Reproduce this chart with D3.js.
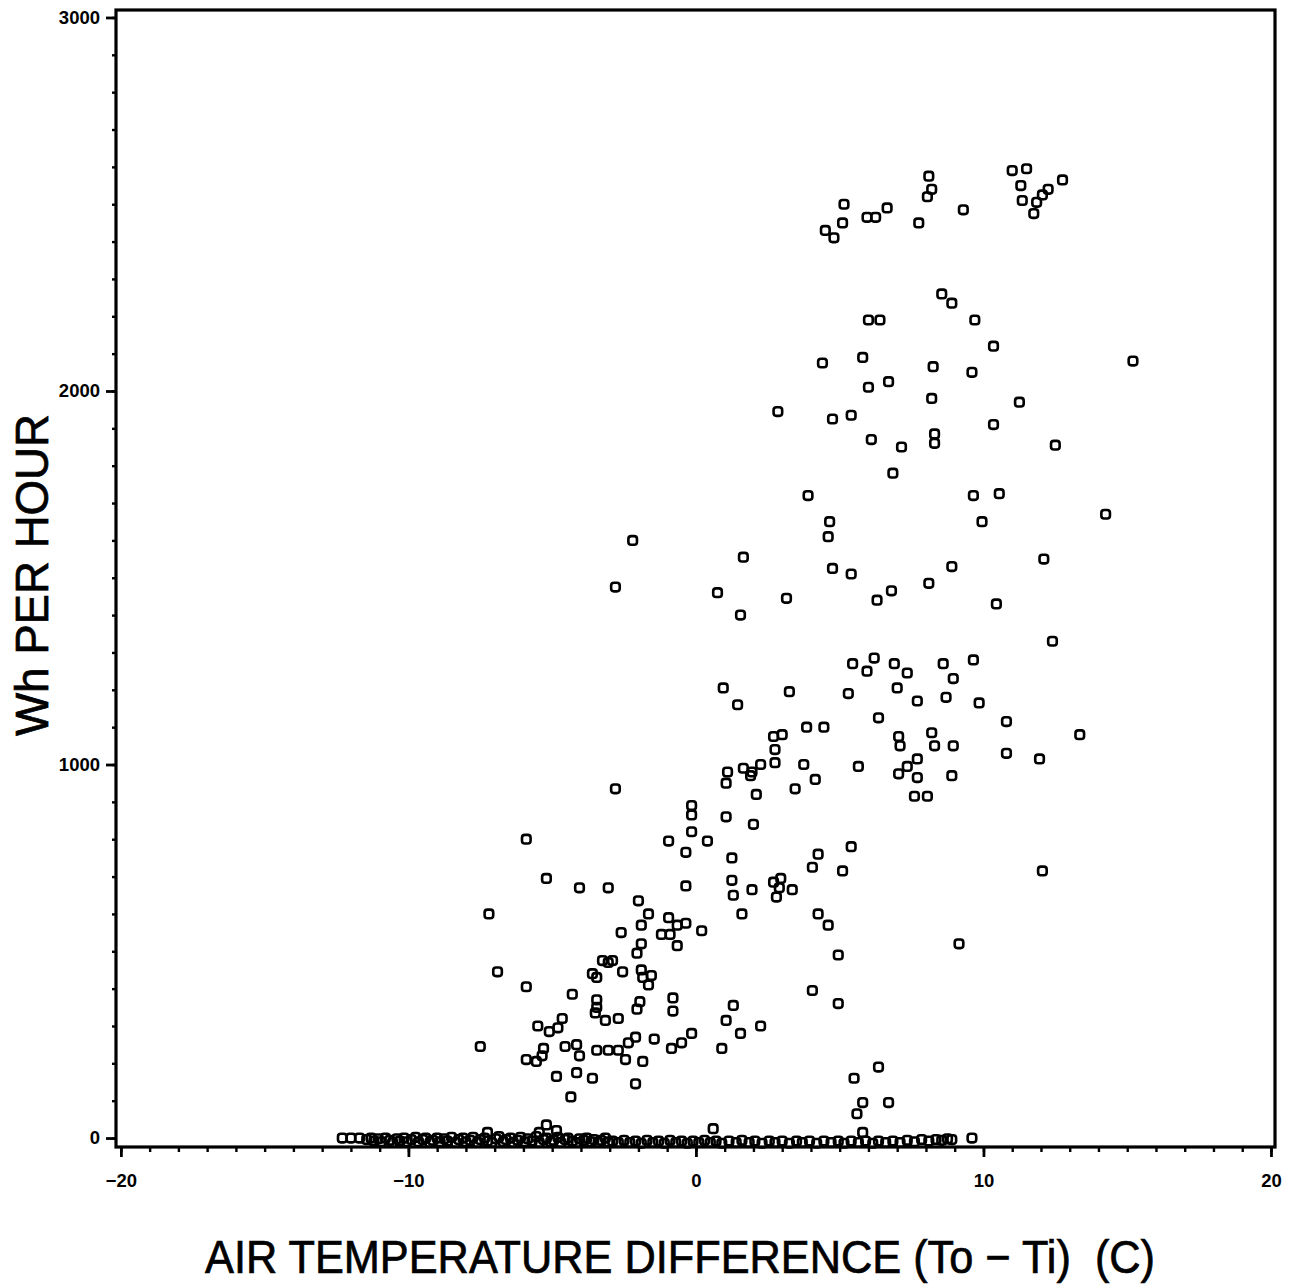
<!DOCTYPE html>
<html>
<head>
<meta charset="utf-8">
<script src="https://cdn.jsdelivr.net/npm/d3@7"></script>
<style>
  html, body { margin: 0; padding: 0; background: #fff; }
  svg { display: block; }
  .tick text { font-family: "Liberation Sans", Arial, sans-serif; font-weight: bold; font-size: 18.5px; fill: #000; }
  .title { font-family: "Liberation Sans", Arial, sans-serif; font-size: 46px; fill: #000; stroke: #000; stroke-width: 0.7px; white-space: pre; }
</style>
</head>
<body>
<svg id="chart" width="1291" height="1285"></svg>
<script>
// Hourly energy use (Wh) against outdoor-minus-indoor air temperature (C).
// Each entry: [temperature difference, Wh per hour]

const peakHours = [
  [4.5,2430],[4.8,2410],[5.15,2500],[5.1,2450],[5.95,2465],[6.25,2465],[6.65,2490],
  [8.1,2575],[8.2,2540],[8.05,2520],[7.75,2450],[9.3,2485],[11.0,2590],[11.5,2595],
  [11.3,2550],[11.35,2510],[11.85,2505],[11.75,2475],[12.05,2525],[12.25,2540],[12.75,2565]
];

const highHours = [
  [8.55,2260],[8.9,2235],[6.0,2190],[6.4,2190],[9.7,2190],[10.35,2120],[4.4,2075],[5.8,2090],
  [8.25,2065],[9.6,2050],[15.2,2080],[6.0,2010],[6.7,2025],[8.2,1980],[11.25,1970],[2.85,1945],
  [4.75,1925],[5.4,1935],[10.35,1910],[6.1,1870],[8.3,1885],[8.3,1860],[7.15,1850],[12.5,1855],
  [6.85,1780],[3.9,1720],[9.65,1720],[10.55,1725],[9.95,1650],[14.25,1670],[4.65,1650],[4.6,1610],
  [-2.2,1600],[1.65,1555],[12.1,1550],[4.75,1525],[5.4,1510],[8.9,1530],[8.1,1485],[6.8,1465],
  [6.3,1440],[10.45,1430],[-2.8,1475],[0.75,1460],[3.15,1445],[1.55,1400],[12.4,1330]
];

const midHours = [
  [5.45,1270],[6.2,1285],[5.95,1250],[6.9,1270],[7.35,1245],[8.6,1270],[9.65,1280],[8.95,1230],
  [5.3,1190],[7.0,1205],[7.7,1170],[8.7,1180],[9.85,1165],[6.35,1125],[10.8,1115],[0.95,1205],
  [1.45,1160],[3.25,1195],[3.85,1100],[4.45,1100],[2.7,1075],[3.0,1080],[2.75,1040],[7.05,1075],
  [7.1,1050],[8.2,1085],[8.3,1050],[8.95,1050],[13.35,1080],[11.95,1015],[10.8,1030],[2.25,1000],
  [2.75,1005],[3.75,1000],[1.1,980],[1.65,990],[1.95,980],[1.9,970],[1.05,950],[2.1,920],
  [3.45,935],[4.15,960],[5.65,995],[7.05,975],[7.35,995],[7.7,1015],[7.7,965],[8.9,970],
  [7.6,915],[8.05,915],[-2.8,935]
];

const lowHours = [
  [-0.15,890],[-0.15,865],[1.05,860],[2.0,840],[-0.15,820],[-0.95,795],[0.4,795],[-0.35,765],
  [1.25,750],[4.25,760],[5.4,780],[4.05,725],[5.1,715],[12.05,715],[-5.9,800],[-5.2,695],
  [-4.05,670],[-3.05,670],[-0.35,675],[1.25,690],[1.3,650],[1.95,665],[2.7,685],[2.95,695],
  [2.9,670],[3.35,665],[2.8,645],[1.6,600],[4.25,600],[4.6,570],[-2.0,635],[-1.65,600],
  [-2.6,550],[-1.9,570],[-0.95,590],[-0.65,570],[-0.35,575],[-1.2,545],[-0.9,545],[0.2,555],
  [-1.9,520],[-0.65,515],[9.15,520],[-7.2,600],[4.95,490],[-2.05,495],[-3.25,475],[-2.9,475],
  [-3.05,470],[-2.55,445],[-3.6,440],[-3.45,430],[-1.9,450],[-1.55,435],[-1.85,430],[-1.65,410],
  [-6.9,445],[-5.9,405]
];

const lightHours = [
  [4.05,395],[4.95,360],[1.3,355],[1.05,315],[1.55,280],[2.25,300],[0.9,240],[-0.15,280],
  [-0.5,255],[-0.85,240],[-1.45,265],[-2.1,270],[-2.35,255],[-1.85,205],[-2.45,210],[-2.1,145],
  [-3.6,160],[6.35,190],[5.5,160],[5.8,95],[5.6,65],[6.7,95],[0.6,25],[5.8,15],
  [-0.8,375],[-0.8,340],[-1.95,365],[-2.05,345],[-3.45,370],[-3.45,350],[-3.5,335],[-3.15,315],
  [-2.7,320],[-4.65,320],[-4.8,295],[-5.5,300],[-5.1,285],[-4.3,385],[-7.5,245],[-5.9,210],
  [-5.55,205],[-5.3,240],[-5.35,220],[-4.55,245],[-4.15,250],[-4.05,220],[-3.45,235],[-3.05,235],
  [-2.7,235],[-4.85,165],[-4.15,175],[-4.35,110],[-5.2,35],[-5.45,15],[-4.85,20],[-7.25,15]
];

// Hours with the unit off: cold side, packed tightly along zero
const idleColdHours = [
  [-12.3,0],[-12.0,0],[-11.7,0],[-11.45,-4],[-11.3,0],[-11.2,-8],[-11.05,-2],[-10.95,-10],
  [-10.8,0],[-10.65,-6],[-10.55,-12],[-10.4,-2],[-10.3,-8],[-10.15,0],[-10.05,-10],[-9.9,-4],
  [-9.75,2],[-9.65,-10],[-9.5,-4],[-9.4,0],[-9.25,-12],[-9.15,-6],[-9.0,0],[-8.9,-10],
  [-8.75,-2],[-8.65,-8],[-8.5,2],[-8.35,-12],[-8.25,-4],[-8.1,0],[-8.0,-10],[-7.85,-6],
  [-7.75,2],[-7.6,-12],[-7.5,-4],[-7.35,0],[-7.25,-8],[-7.1,-12],[-6.95,-2],[-6.85,4],
  [-6.7,-10],[-6.6,-4],[-6.45,0],[-6.35,-12],[-6.2,-6],[-6.1,2],[-5.95,-10],[-5.85,-2],
  [-5.7,-8],[-5.55,4],[-5.45,-12],[-5.3,-4],[-5.2,0],[-5.05,-10],[-4.95,-6],[-4.8,2],
  [-4.7,-12],[-4.55,-4],[-4.45,0],[-4.3,-8],[-4.15,-12],[-4.05,-2],[-3.9,-6],[-3.8,0],
  [-3.65,-10],[-3.55,-4],[-3.4,-12],[-3.3,-6],[-3.15,0],[-3.05,-10]
];

// Hours with the unit off: milder side
const idleMildHours = [
  [-2.9,-8],[-2.7,-12],[-2.5,-6],[-2.3,-12],[-2.1,-8],[-1.9,-14],[-1.7,-6],[-1.5,-12],
  [-1.3,-8],[-1.1,-14],[-0.9,-6],[-0.7,-12],[-0.5,-8],[-0.3,-14],[-0.1,-8],[0.1,-12],
  [0.3,-6],[0.5,-12],[0.7,-8],[0.9,-14],[1.15,-8],[1.4,-12],[1.6,-6],[1.85,-12],
  [2.05,-8],[2.3,-14],[2.55,-8],[2.75,-12],[3.0,-8],[3.25,-14],[3.5,-8],[3.7,-12],
  [3.95,-8],[4.2,-14],[4.45,-8],[4.7,-12],[4.95,-8],[5.15,-14],[5.4,-8],[5.65,-12],
  [5.9,-8],[6.15,-14],[6.35,-8],[6.6,-12],[6.85,-8],[7.1,-12],[7.35,-6],[7.6,-10],
  [7.85,-4],[8.1,-8],[8.35,-4],[8.55,-6],[8.75,-2],[8.9,-4],[9.6,0]
];

const xMajorTicks = [-20, -10, 0, 10, 20];
const yMajorTicks = [0, 1000, 2000, 3000];
const xTitle = "AIR TEMPERATURE DIFFERENCE (To \u2212 Ti)  (C)";
const yTitle = "Wh PER HOUR";

const svg = d3.select("#chart");

const x = d3.scaleLinear().domain([-20.17, 20.14]).range([116, 1275]);
const y = d3.scaleLinear().domain([-24, 3020]).range([1147, 10]);

const [x0, x1] = x.range();
const [yb, yt] = y.range();

// Minor ticks
svg.append("g")
  .attr("transform", `translate(0,${yb})`)
  .call(d3.axisBottom(x).tickValues(d3.range(-20, 21, 1)).tickSize(5).tickFormat(""))
  .call(g => g.select(".domain").remove())
  .call(g => g.selectAll("line").attr("stroke", "#000").attr("stroke-width", 2.4));

svg.append("g")
  .attr("transform", `translate(${x0},0)`)
  .call(d3.axisLeft(y).tickValues(d3.range(0, 3001, 100)).tickSize(4).tickFormat(""))
  .call(g => g.select(".domain").remove())
  .call(g => g.selectAll("line").attr("stroke", "#000").attr("stroke-width", 2.4));

// Major ticks with labels
svg.append("g")
  .attr("transform", `translate(0,${yb})`)
  .call(d3.axisBottom(x).tickValues(xMajorTicks).tickSize(10).tickPadding(17).tickFormat(d3.format("d")))
  .call(g => g.select(".domain").remove())
  .call(g => g.selectAll("line").attr("stroke", "#000").attr("stroke-width", 2.8));

svg.append("g")
  .attr("transform", `translate(${x0},0)`)
  .call(d3.axisLeft(y).tickValues(yMajorTicks).tickSize(10).tickPadding(6).tickFormat(d3.format("d")))
  .call(g => g.select(".domain").remove())
  .call(g => g.selectAll("line").attr("stroke", "#000").attr("stroke-width", 2.8));

// Plot frame
svg.append("rect")
  .attr("x", x0).attr("y", yt)
  .attr("width", x1 - x0).attr("height", yb - yt)
  .attr("fill", "none").attr("stroke", "#000").attr("stroke-width", 3.2);

// Square markers
const allPoints = [].concat(idleColdHours, idleMildHours, lightHours, lowHours, midHours, highHours, peakHours);
const s = 8.6;
svg.append("g")
  .selectAll("rect")
  .data(allPoints)
  .join("rect")
  .attr("x", d => x(d[0]) - s / 2)
  .attr("y", d => y(d[1]) - s / 2)
  .attr("width", s).attr("height", s)
  .attr("rx", 2.8).attr("ry", 2.8)
  .attr("fill", "none")
  .attr("stroke", "#000")
  .attr("stroke-width", 2.6);

// Axis titles
svg.append("text")
  .attr("class", "title")
  .attr("x", 205).attr("y", 1273)
  .attr("textLength", 950)
  .attr("lengthAdjust", "spacingAndGlyphs")
  .text(xTitle);

svg.append("text")
  .attr("class", "title")
  .attr("text-anchor", "middle")
  .attr("transform", "translate(48,575) rotate(-90)")
  .attr("textLength", 322)
  .attr("lengthAdjust", "spacingAndGlyphs")
  .text(yTitle);
</script>
</body>
</html>
